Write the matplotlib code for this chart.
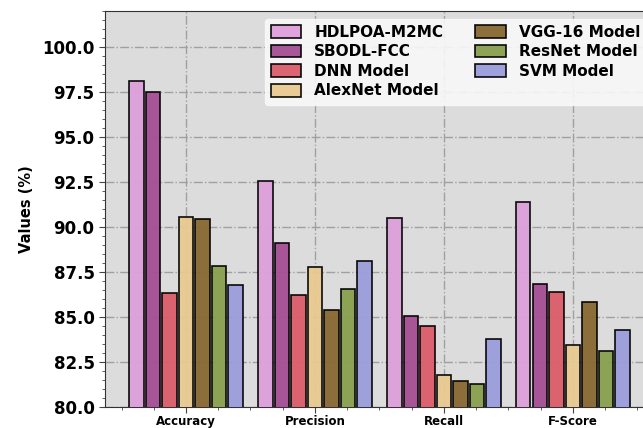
import matplotlib
matplotlib.use("Agg")
import matplotlib.pyplot as plt
import numpy as np
from matplotlib.ticker import MultipleLocator

metrics = ["Accuracy", "Precision", "Recall", "F-Score"]
models = ["HDLPOA-M2MC", "SBODL-FCC", "DNN Model", "AlexNet Model",
          "VGG-16 Model", "ResNet Model", "SVM Model"]
hdlpoa = [98.10, 92.55, 90.48, 91.38]
sbodl = [97.52, 89.08, 85.05, 86.82]
dnn = [86.30, 86.20, 84.50, 86.35]
alexnet = [90.55, 87.75, 81.75, 83.42]
vgg16 = [90.42, 85.38, 81.40, 85.80]
resnet = [87.80, 86.52, 81.25, 83.10]
svm = [86.78, 88.12, 83.75, 84.25]
series = [hdlpoa, sbodl, dnn, alexnet, vgg16, resnet, svm]
colors = ["#DDA0DA", "#A44E94", "#DA5D69", "#E8C990", "#876830", "#88A04E", "#9B9DDC"]

fig = plt.figure(figsize=(6.43, 4.28), dpi=100)
ax = fig.add_axes([0.1633, 0.0500, 0.8537, 0.9243])
ax.set_facecolor("#DCDCDC")

x = np.arange(len(metrics))
step = 0.128
width = 0.11
for i, (vals, c, name) in enumerate(zip(series, colors, models)):
    ax.bar(x + (i - 3) * step, vals, width, color=c, edgecolor="black",
           linewidth=1.2, label=name, zorder=3, alpha=0.95)

ax.set_xlim(-0.628, 3.628)
ax.set_xticks(x)
ax.set_xticklabels(metrics, fontsize=8.5, fontweight="bold")
ax.xaxis.set_minor_locator(MultipleLocator(0.25))
yticks = np.arange(80, 101, 2.5)
ax.set_yticks(yticks)
ax.set_yticklabels([f"{v:.1f}" for v in yticks], fontsize=12, fontweight="bold")
ax.yaxis.set_minor_locator(MultipleLocator(0.5))
ax.set_ylim(80, 102)
ax.tick_params(axis="both", which="major", direction="out", length=4, color="#444444")
ax.tick_params(axis="both", which="minor", direction="out", length=2, color="#444444")
ax.tick_params(axis="x", which="major", pad=2)
ax.grid(True, which="major", linestyle="-.", color="#A0A0A0", linewidth=1.0, zorder=0)
ax.set_axisbelow(True)
ax.set_ylabel("Values (%)", fontsize=10.5, fontweight="bold", labelpad=6)
for s in ax.spines.values():
    s.set_color("#333333")

ax.legend(loc="upper right", ncol=2, prop={"weight": "bold", "size": 11},
          frameon=True, facecolor="#F8F8F8", edgecolor="#F8F8F8", framealpha=0.9,
          handlelength=2.0, handleheight=0.9, handletextpad=0.85,
          labelspacing=0.3, columnspacing=2.1, borderaxespad=0.5)

fig.savefig("out.png", dpi=100)
